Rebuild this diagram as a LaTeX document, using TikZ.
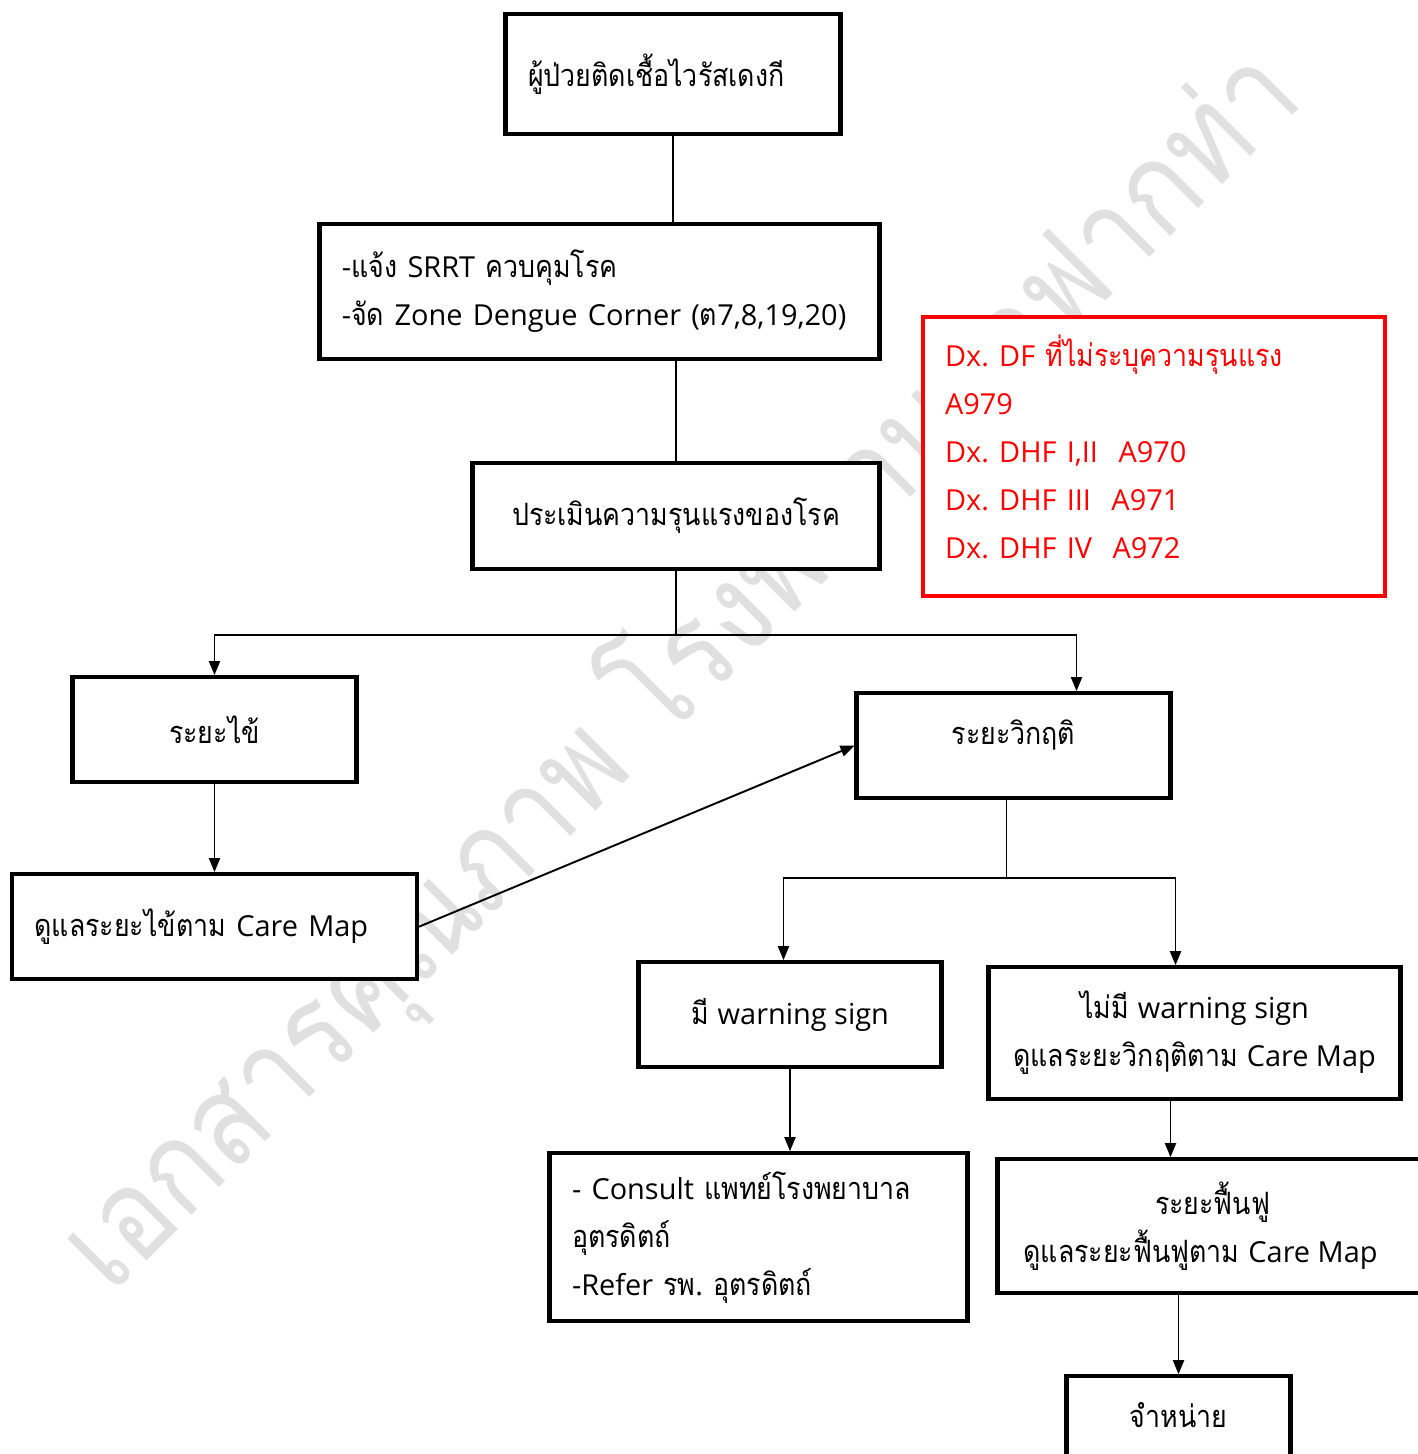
\documentclass[tikz,border=0pt]{standalone}
\usepackage{fontspec}
\setmainfont[Script=Thai, FakeStretch=0.87]{Loma}
\newfontfamily\latfont[Scale=0.94]{Open Sans}
\usetikzlibrary{positioning,arrows.meta}
\frenchspacing

\tikzset{
  box/.style={draw, line width=2.3pt, fill=white, inner sep=0pt,
    font={\fontsize{17.5pt}{27.3pt}\selectfont}, align=center},
  leftbox/.style={box, align=left, inner xsep=0.45cm},
  redbox/.style={leftbox, draw=red, text=red},
  arr/.style={line width=1.1pt, -{Triangle[length=0.28cm,width=0.22cm]}},
  link/.style={line width=1.1pt},
  watermark/.style={text=black!12, font={\fontsize{72pt}{80pt}\selectfont}}
}

\begin{document}
\begin{tikzpicture}

    \useasboundingbox (-13.46,1.48) rectangle (14.88,-27.6);

    % Watermark
    \node[watermark, rotate=45] (wm) at (0.14,-11.92) {เอกสารคุณภาพ โรงพยาบาลฟากท่า};

    % Define nodes
    \node[leftbox, text width=5.8cm, minimum height=2.4cm]            (pt) at (0,0) {ผู้ป่วยติดเชื้อไวรัสเดงกี};
    \node[leftbox, text width=10.3cm, minimum height=2.7cm,
          below=1.72cm of pt, xshift=-1.47cm]                          (srrt) {{\latfont -}แจ้ง {\latfont SRRT} ควบคุมโรค\\{\latfont -}จัด {\latfont Zone Dengue Corner (}ต{\latfont 7,8,19,20)}};
    \node[box, minimum width=8.14cm, minimum height=2.12cm,
          below=2.0cm of srrt.south east, anchor=north east]          (assess) {ประเมินความรุนแรงของโรค};
    \node[redbox, text width=8.34cm, minimum height=5.58cm,
          right=0.78cm of assess, yshift=1.19cm]                       (dx) {{\latfont Dx. DF} ที่ไม่ระบุความรุนแรง\\{\latfont A979}\\{\latfont Dx. DHF I,II\ \ A970}\\{\latfont Dx. DHF III\ \ A971}\\{\latfont Dx. DHF IV\ \ A972}\par\vspace{11pt}};

    \node[box, minimum width=5.68cm, minimum height=2.1cm,
          below=2.08cm of assess, xshift=-9.23cm]                      (fever) {ระยะไข้};
    \node[box, minimum width=6.28cm, minimum height=2.1cm,
          below=2.4cm of assess, xshift=6.75cm]                        (crit) {ระยะวิกฤติ\\[-11.4pt]};
    \node[leftbox, text width=7.2cm, minimum height=2.1cm,
          below=1.76cm of fever]                                       (fevercare) {ดูแลระยะไข้ตาม {\latfont Care Map}};

    \node[box, minimum width=6.06cm, minimum height=2.1cm,
          below=3.2cm of crit, xshift=-4.47cm]                         (warn) {มี {\latfont warning sign}};
    \node[box, minimum width=8.24cm, minimum height=2.64cm,
          below=3.3cm of crit, xshift=3.62cm]                          (nowarn) {ไม่มี {\latfont warning sign}\\ดูแลระยะวิกฤติตาม {\latfont Care Map}};
    \node[leftbox, text width=7.46cm, minimum height=3.36cm,
          below=1.64cm of warn, xshift=-0.63cm]                        (consult) {{\latfont - Consult} แพทย์โรงพยาบาล\\อุตรดิตถ์\\{\latfont -Refer} รพ{\latfont .} อุตรดิตถ์};
    \node[box, minimum width=8.6cm, minimum height=2.68cm,
          below=1.12cm of nowarn, xshift=0.36cm]                       (recov) {ระยะฟื้นฟู\\ดูแลระยะฟื้นฟูตาม {\latfont Care Map}\hspace*{0.48cm}};
    \node[box, minimum width=4.48cm, minimum height=2.1cm,
          below=1.58cm of recov, xshift=-0.68cm]                       (disch) {จำหน่าย\\[-11.4pt]};

    % Connect the nodes
    \draw[link] (pt.south) -- (pt.south |- srrt.north);
    \draw[link] (assess.north |- srrt.south) -- (assess.north);
    \draw[link] (assess.south) -- ++(0,-1.28cm) coordinate (fork1);
    \draw[arr] (fork1) -| (fever.north);
    \draw[arr] (fork1) -| ([xshift=1.26cm]crit.north);
    \draw[arr] (fever) -- (fevercare);
    \draw[arr] (fevercare.east) -- (crit.west);
    \draw[link] ([xshift=-0.14cm]crit.south) -- ++(0,-1.56cm) coordinate (fork2);
    \draw[arr] (fork2) -| ([xshift=-0.13cm]warn.north);
    \draw[arr] (fork2) -| ([xshift=-0.38cm]nowarn.north);
    \draw[arr] (warn.south) -- (warn.south |- consult.north);
    \draw[arr] ([xshift=-0.48cm]nowarn.south) -- ([xshift=-0.48cm]nowarn.south |- recov.north);
    \draw[arr] (recov.south -| disch.north) -- (disch.north);

\end{tikzpicture}
\end{document}
